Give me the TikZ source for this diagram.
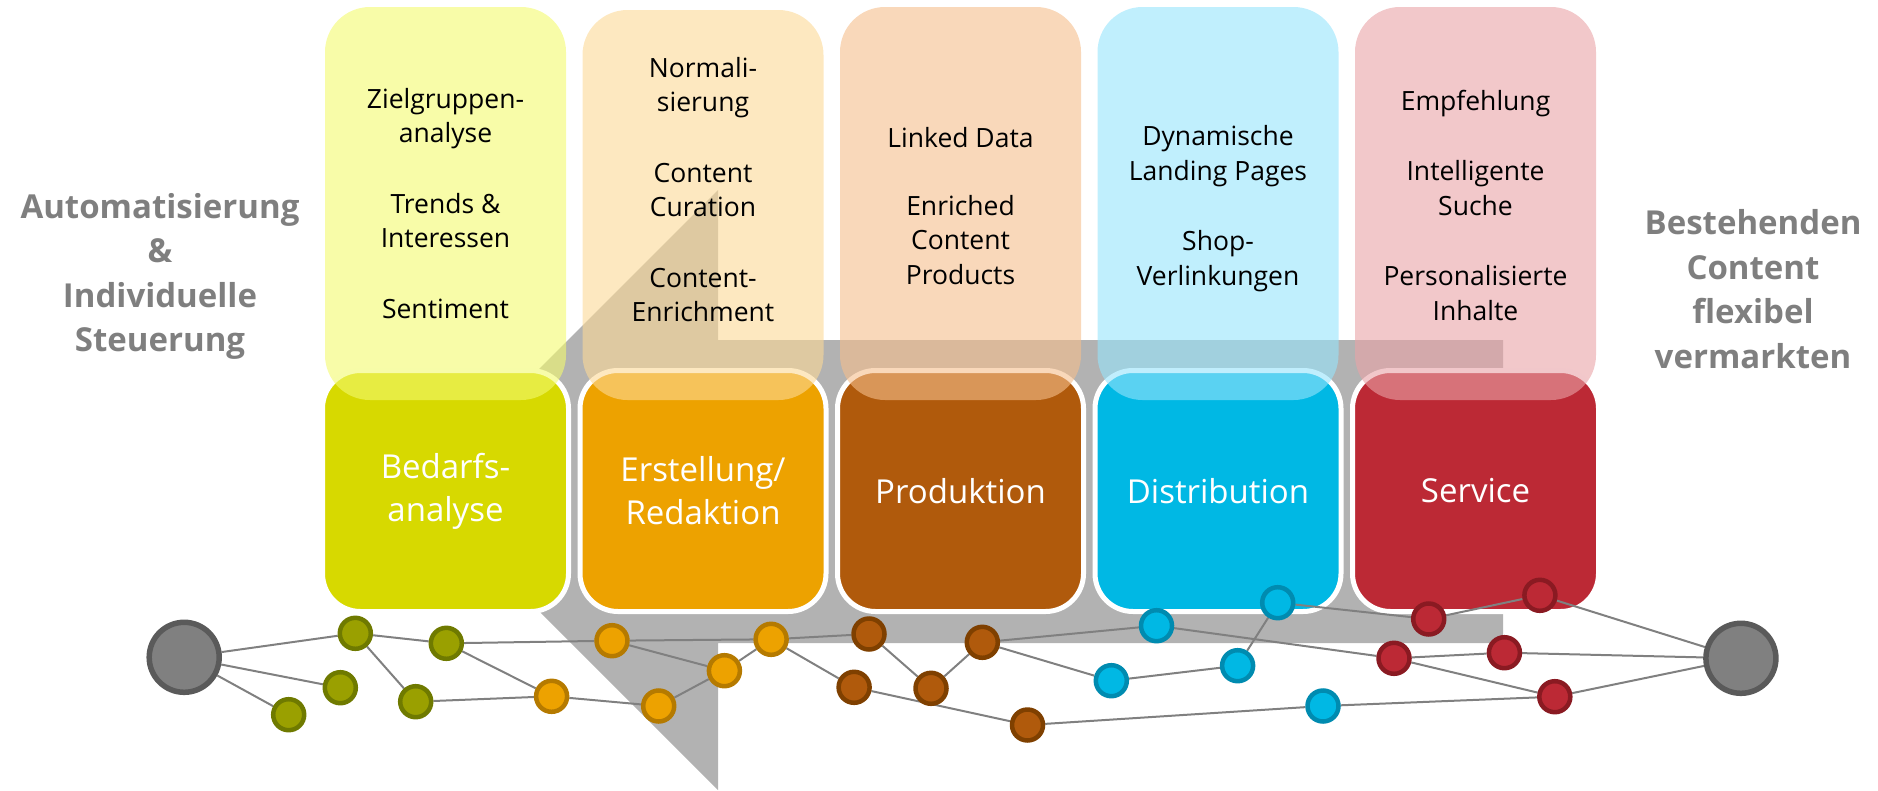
\documentclass[tikz,border=0pt]{standalone}
\usepackage{fontspec}
\setmainfont{Open Sans}

\definecolor{cYellow}{HTML}{D7D900}
\definecolor{cOrange}{HTML}{EDA200}
\definecolor{cBrown}{HTML}{B05A0C}
\definecolor{cCyan}{HTML}{00B8E4}
\definecolor{cRed}{HTML}{BC2935}
\definecolor{lYellow}{HTML}{F3FA6E}
\definecolor{lBeige}{HTML}{FCD996}
\definecolor{lPeach}{HTML}{F5BE8C}
\definecolor{lCyan}{HTML}{96E4FC}
\definecolor{lPink}{HTML}{E9A3A7}
\definecolor{bYellow}{HTML}{6F7A00}
\definecolor{fYellow}{HTML}{9AA000}
\definecolor{bOrange}{HTML}{B57A00}
\definecolor{bBrown}{HTML}{7F4000}
\definecolor{bCyan}{HTML}{008BB0}
\definecolor{bRed}{HTML}{8A1A22}
\definecolor{sideGray}{HTML}{7F7F7F}
\definecolor{arrowGray}{HTML}{B2B2B2}
\definecolor{linkGray}{HTML}{808080}
\definecolor{hubFill}{HTML}{808080}
\definecolor{hubLine}{HTML}{5A5A5A}

\pgfdeclarelayer{back}
\pgfdeclarelayer{edges}
\pgfsetlayers{back,edges,main}

\begin{document}
\begin{tikzpicture}[x=1pt, y=-1pt,
        phase/.style={draw=white, line width=5pt, rounded corners=38pt, minimum width=246pt,
            minimum height=241pt, inner sep=0pt, align=center, text=white,
            font=\fontsize{33}{43}\selectfont},
        topic/.style={rounded corners=45pt, fill opacity=0.6},
        items/.style={anchor=base, align=center, inner sep=0pt, font=\fontsize{26.5}{34.5}\selectfont},
        side/.style={anchor=base, align=center, inner sep=0pt, text=sideGray,
            font=\fontsize{33}{44.5}\selectfont\bfseries},
        dot/.style={circle, minimum size=31pt, inner sep=0pt, line width=4.5pt},
        hub/.style={circle, minimum size=70pt, inner sep=0pt, line width=5.5pt, draw=hubLine, fill=hubFill},
        link/.style={draw=linkGray, line width=2pt}
]
    \useasboundingbox (0,0) rectangle (1878,790);

\begin{pgfonlayer}{back}
    % big arrow behind the phases
    \fill[arrowGray] (418,490) -- (718,190) -- (718,340) -- (1503,340) -- (1503,643)
        -- (718,643) -- (718,790) -- cycle;

    \node[phase, fill=cYellow] (bedarf) at (445.5,491) {Bedarfs-\\analyse};
    \node[phase, fill=cOrange] (redaktion) at (703,491) {Erstellung/\\Redaktion};
    \node[phase, fill=cBrown] (produktion) at (960.5,491) {Produktion};
    \node[phase, fill=cCyan] (distribution) at (1218,491) {Distribution};
    \node[phase, fill=cRed] (service) at (1475.5,491) {Service};

    \fill[topic, fill=lYellow] (325,7) rectangle (566,400);
    \fill[topic, fill=lBeige] (582.5,10) rectangle (823.5,400);
    \fill[topic, fill=lPeach] (840,7) rectangle (1081,400);
    \fill[topic, fill=lCyan] (1097.5,7) rectangle (1338.5,400);
    \fill[topic, fill=lPink] (1355,7) rectangle (1596,400);

    % texts sit on the baseline of their last line
    \node[items] (t1) at (445.5,318) {Zielgruppen-\\analyse\\[36pt]Trends \&\\Interessen\\[36pt]Sentiment};
    \node[items] (t2) at (703,321.7) {Normali-\\sierung\\[36pt]Content\\Curation\\[36pt]Content-\\Enrichment};
    \node[items] (t3) at (960.5,284) {Linked Data\\[33pt]Enriched\\Content\\Products};
    \node[items] (t4) at (1218,285) {Dynamische\\Landing Pages\\[36pt]Shop-\\Verlinkungen};
    \node[items] (t5) at (1475.5,320) {Empfehlung\\[36pt]Intelligente\\Suche\\[36pt]Personalisierte\\Inhalte};

    \node[side] (links) at (160,351.7) {Automatisierung\\\&\\Individuelle\\Steuerung};
    \node[side] (rechts) at (1753,368) {Bestehenden\\Content\\flexibel\\vermarkten};
\end{pgfonlayer}

    \node[hub] (hubL) at (184.2,657.3) {};
    \node[hub] (hubR) at (1740.9,658.3) {};

    \node[dot, fill=fYellow, draw=bYellow] (a1) at (355.3,633.3) {};
    \node[dot, fill=fYellow, draw=bYellow] (a2) at (446.3,643.3) {};
    \node[dot, fill=fYellow, draw=bYellow] (a3) at (340.3,687.7) {};
    \node[dot, fill=fYellow, draw=bYellow] (a4) at (288.7,714.7) {};
    \node[dot, fill=fYellow, draw=bYellow] (a5) at (415.7,701.7) {};

    \node[dot, fill=cOrange, draw=bOrange] (e1) at (551.6,696.3) {};
    \node[dot, fill=cOrange, draw=bOrange] (e2) at (612,640.7) {};
    \node[dot, fill=cOrange, draw=bOrange] (e3) at (658.7,706) {};
    \node[dot, fill=cOrange, draw=bOrange] (e4) at (724.4,670.7) {};
    \node[dot, fill=cOrange, draw=bOrange] (e5) at (771.1,639.3) {};

    \node[dot, fill=cBrown, draw=bBrown] (p1) at (869,634) {};
    \node[dot, fill=cBrown, draw=bBrown] (p2) at (854.1,687.3) {};
    \node[dot, fill=cBrown, draw=bBrown] (p3) at (931,688.3) {};
    \node[dot, fill=cBrown, draw=bBrown] (p4) at (982.3,642.3) {};
    \node[dot, fill=cBrown, draw=bBrown] (p5) at (1027.5,725) {};

    \node[dot, fill=cCyan, draw=bCyan] (d1) at (1111.3,680.7) {};
    \node[dot, fill=cCyan, draw=bCyan] (d2) at (1156.5,625.7) {};
    \node[dot, fill=cCyan, draw=bCyan] (d3) at (1237.6,665.7) {};
    \node[dot, fill=cCyan, draw=bCyan] (d4) at (1277.7,602.7) {};
    \node[dot, fill=cCyan, draw=bCyan] (d5) at (1323,706) {};

    \node[dot, fill=cRed, draw=bRed] (s1) at (1428.7,619) {};
    \node[dot, fill=cRed, draw=bRed] (s2) at (1539.9,595.3) {};
    \node[dot, fill=cRed, draw=bRed] (s3) at (1394,658.3) {};
    \node[dot, fill=cRed, draw=bRed] (s4) at (1504.4,652.7) {};
    \node[dot, fill=cRed, draw=bRed] (s5) at (1554.8,696.7) {};

\begin{pgfonlayer}{edges}
    \draw[link] (hubL) -- (a1);
    \draw[link] (hubL) -- (a3);
    \draw[link] (hubL) -- (a4);
    \draw[link] (a1) -- (a2);
    \draw[link] (a1) -- (a5);
    \draw[link] (a2) -- (e2);
    \draw[link] (a2) -- (e1);
    \draw[link] (a5) -- (e1);
    \draw[link] (e1) -- (e3);
    \draw[link] (e3) -- (e4);
    \draw[link] (e2) -- (e4);
    \draw[link] (e2) -- (e5);
    \draw[link] (e4) -- (e5);
    \draw[link] (e5) -- (p1);
    \draw[link] (e5) -- (p2);
    \draw[link] (p1) -- (p3);
    \draw[link] (p3) -- (p4);
    \draw[link] (p4) -- (d2);
    \draw[link] (p4) -- (d1);
    \draw[link] (p2) -- (p5);
    \draw[link] (p5) -- (d5);
    \draw[link] (d1) -- (d3);
    \draw[link] (d3) -- (d4);
    \draw[link] (d2) -- (s3);
    \draw[link] (d4) -- (s1);
    \draw[link] (s1) -- (s2);
    \draw[link] (s2) -- (hubR);
    \draw[link] (s3) -- (s4);
    \draw[link] (s3) -- (s5);
    \draw[link] (s4) -- (hubR);
    \draw[link] (s5) -- (hubR);
    \draw[link] (d5) -- (s5);
\end{pgfonlayer}

\end{tikzpicture}
\end{document}
